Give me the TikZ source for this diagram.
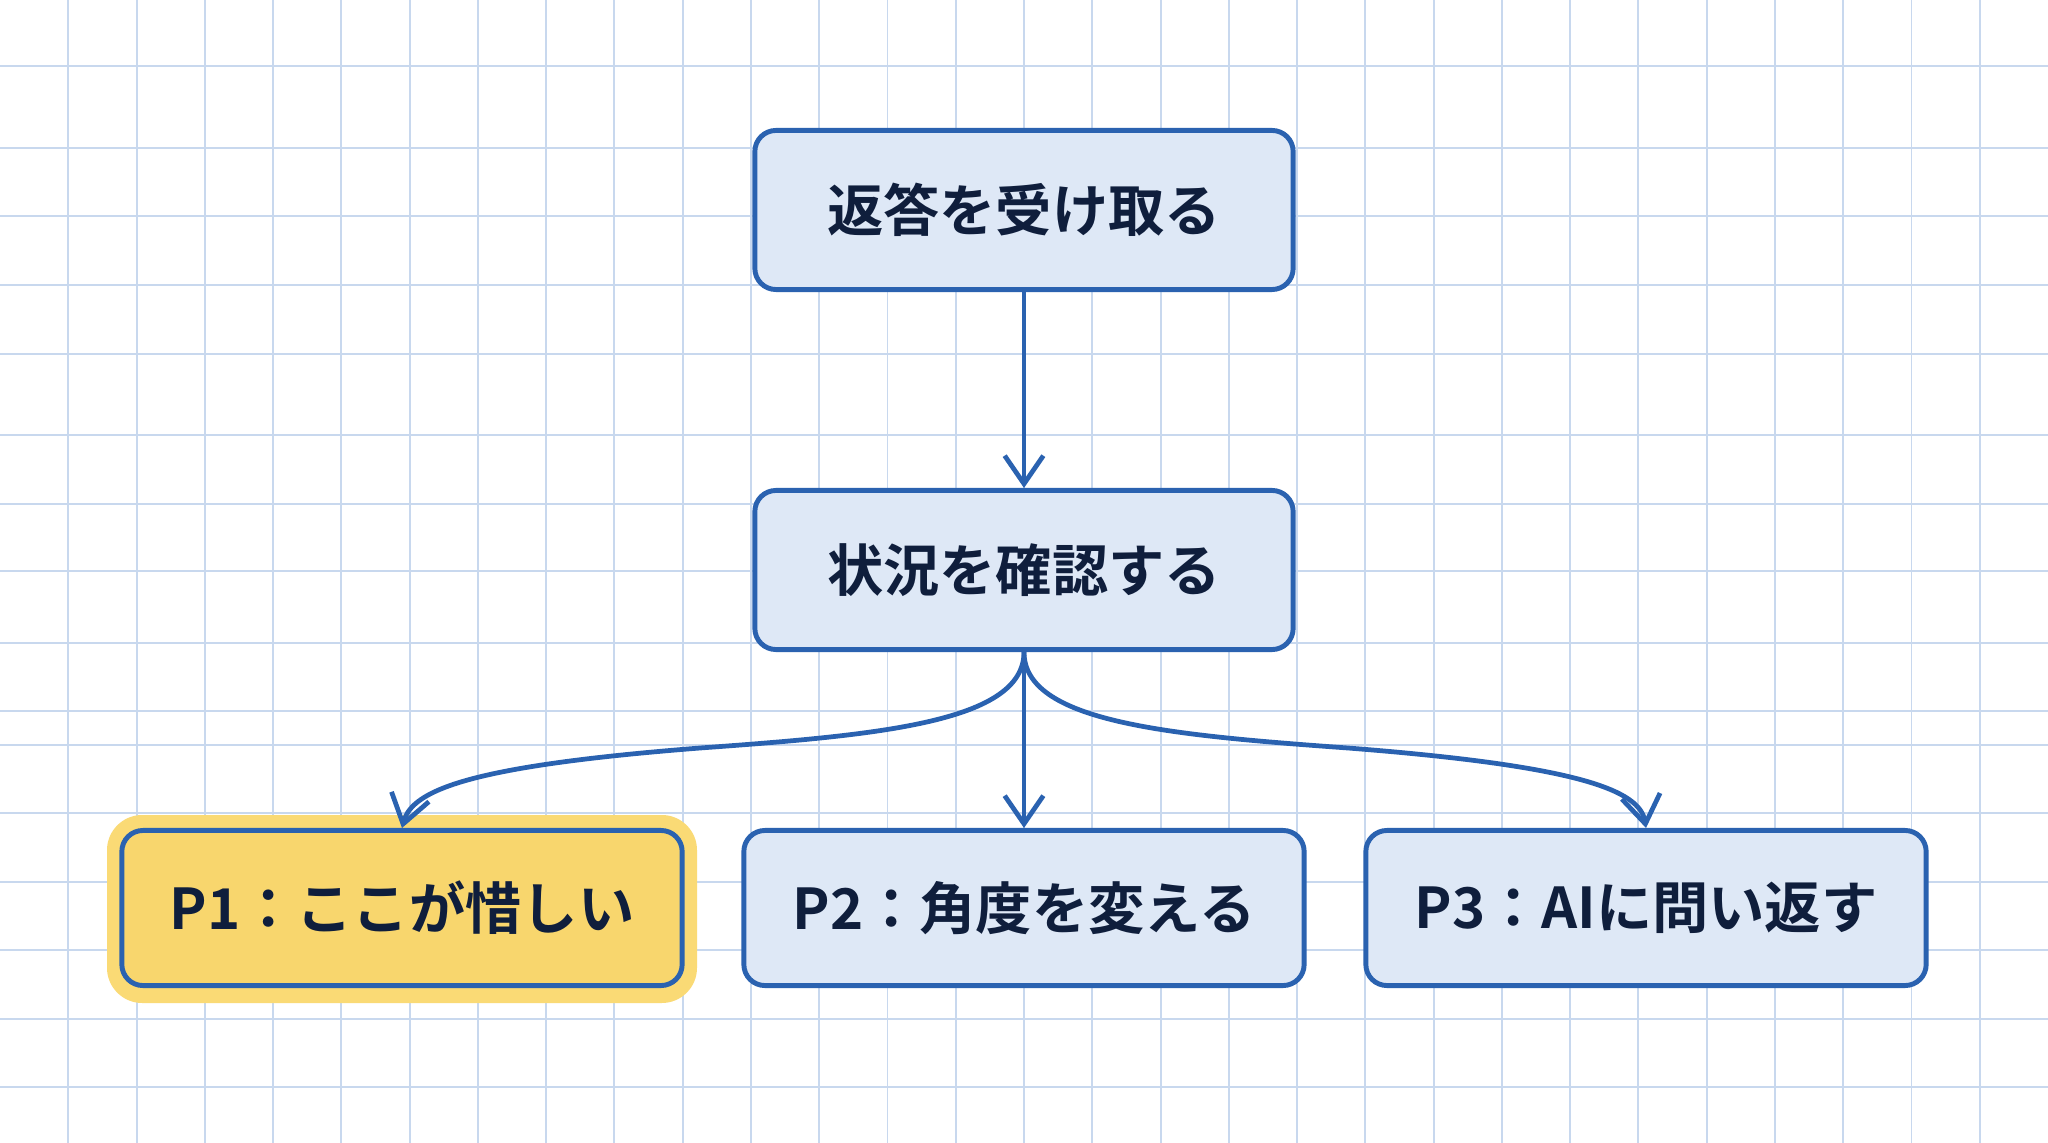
\documentclass[tikz,border=0pt]{standalone}
\usepackage{fontspec}
\setmainfont{Noto Sans CJK JP}[BoldFont={Noto Sans CJK JP Bold}]
\usetikzlibrary{arrows.meta}
\definecolor{gridc}{HTML}{C8D8EE}
\definecolor{boxfill}{HTML}{DEE8F6}
\definecolor{boxline}{HTML}{2A62B0}
\definecolor{txt}{HTML}{0F1E3C}
\definecolor{hl}{HTML}{F8D66D}
\definecolor{halo}{HTML}{FADA75}
\begin{document}
\begin{tikzpicture}[x=0.01cm,y=-0.01cm,
  box/.style={draw=boxline, line width=1.4pt, fill=boxfill, rounded corners=6pt, text=txt,
    font=\fontsize{16}{19}\selectfont\bfseries, align=center, inner sep=0pt},
  topbox/.style={box, minimum width=5.38cm, minimum height=1.59cm},
  optbox/.style={box, minimum width=5.6cm, minimum height=1.55cm},
  conn/.style={draw=boxline, line width=1.35pt, -{Straight Barb[length=8pt,width=11pt,line width=1.35pt]}},
  gridline/.style={draw=gridc, line width=0.55pt}
]
\useasboundingbox (0,0) rectangle (2048,1143);
\fill[white] (0,0) rectangle (2048,1143);
\foreach \i in {1,...,29} \draw[gridline] ({\i*68.267},0) -- ({\i*68.267},1143);
\foreach \yy in {66,148,216,285,354,435,504,571,643,711,745,813,882,950,1019,1087}
  \draw[gridline] (0,\yy) -- (2048,\yy);

\fill[halo, rounded corners=10pt] (107,815) rectangle (697,1003);

\node[topbox] (recv) at (1024,210) {返答を受け取る};
\node[topbox] (check) at (1024,570) {状況を確認する};
\node[optbox, fill=hl] (p1) at (402,908) {P1：ここが惜しい};
\node[optbox] (p2) at (1024,908) {P2：角度を変える};
\node[optbox] (p3) at (1646,908) {P3：AIに問い返す};

\coordinate (m1) at (700,748);
\coordinate (m2) at (1348,748);

\draw[conn] (recv.south) -- (check.north);
\draw[conn] (check.south) -- (p2.north);
\draw[conn] (check.south) .. controls +(0,70) and (880,735) .. (m1)
  .. controls (470,766) and (412,790) .. (p1.north);
\draw[conn] (check.south) .. controls +(0,70) and (1168,735) .. (m2)
  .. controls (1578,766) and (1640,790) .. (p3.north);
\end{tikzpicture}
\end{document}
